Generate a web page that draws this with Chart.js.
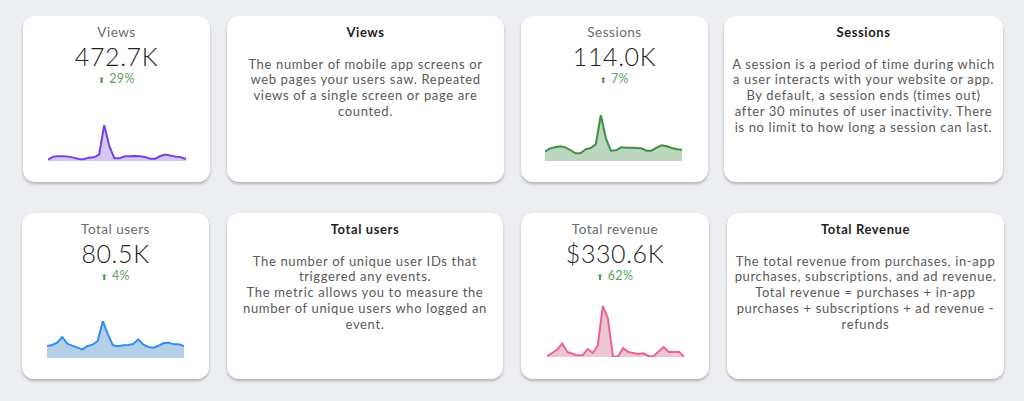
<!DOCTYPE html>
<html>
<head>
<meta charset="utf-8">
<script src="https://cdn.jsdelivr.net/npm/chart.js@4.4.0/dist/chart.umd.min.js"></script>
<style>
  body {
    margin: 0;
    width: 1024px;
    height: 401px;
    background: #eceef1;
    font-family: Lato, sans-serif;
    position: relative;
    overflow: hidden;
  }
  .card {
    position: absolute;
    background: #fff;
    border-radius: 12px;
    box-shadow: 0 2px 3px rgba(0, 0, 0, 0.25);
  }
  .txt {
    position: absolute;
    text-align: center;
    white-space: nowrap;
  }
  .label { color: #6b6b6b; font-size: 13.5px; line-height: 14px; letter-spacing: 0.5px; }
  .value { color: #222; font-size: 25px; line-height: 22px; font-weight: 300; letter-spacing: 0.6px; }
  .delta { color: #59a35c; font-size: 12.5px; line-height: 12px; letter-spacing: 0.3px; }
  .delta .arr { font-family: "DejaVu Sans"; font-size: 8px; margin-right: 4px; color: #3f8f43; }
  .dtitle { color: #1e1e1e; font-size: 13px; line-height: 14px; font-weight: 700; letter-spacing: 0.6px; }
  .dbody { color: #595959; font-size: 13px; line-height: 15.8px; letter-spacing: 0.65px; }
  canvas { position: absolute; }
</style>
</head>
<body>
<script>
// days of the period
const days = [1, 2, 3, 4, 5, 6, 7, 8, 9, 10, 11, 12, 13, 14, 15, 16, 17, 18, 19, 20, 21, 22, 23, 24, 25, 26, 27, 28];

const viewsData    = [4, 13, 14, 14, 13, 10, 6, 5, 10, 11, 19, 107, 44, 8, 8, 14, 14, 15, 14, 12, 7, 7, 15, 19, 16, 13, 11, 6];
const sessionsData = [28, 38, 41, 44, 41, 33, 23, 23, 35, 39, 50, 138, 68, 31, 32, 41, 40, 40, 39, 38, 31, 31, 40, 47, 44, 39, 35, 34];
const usersData    = [36, 39, 46, 63, 43, 37, 31, 26, 36, 40, 51, 111, 71, 38, 35, 38, 39, 42, 56, 40, 33, 31, 37, 45, 46, 41, 41, 36];
const revenueData  = [2, 12, 22, 41, 15, 10, 5, 5, 24, 12, 34, 154, 117, 1, 2, 27, 15, 12, 9, 11, 3, 2, 17, 30, 15, 15, 16, 1];

// headline numbers
const metricNames  = ["Views", "Sessions", "Total users", "Total revenue"];
const metricTotals = ["472.7K", "114.0K", "80.5K", "$330.6K"];
const metricDeltas = ["29%", "7%", "4%", "62%"];

// description cards
const descTitles = ["Views", "Sessions", "Total users", "Total Revenue"];
const descLines = [
  ["The number of mobile app screens or", "web pages your users saw. Repeated", "views of a single screen or page are", "counted."],
  ["A session is a period of time during which", "a user interacts with your website or app.", "By default, a session ends (times out)", "after 30 minutes of user inactivity. There", "is no limit to how long a session can last."],
  ["The number of unique user IDs that", "triggered any events.", "The metric allows you to measure the", "number of unique users who logged an", "event."],
  ["The total revenue from purchases, in-app", "purchases, subscriptions, and ad revenue.", "Total revenue = purchases + in-app", "purchases + subscriptions + ad revenue -", "refunds"]
];

// layout
const statCards = [
  { x: 23, y: 16, w: 187, h: 166, spark: { x: 48, y: 125, w: 138, h: 36 } },
  { x: 521, y: 16, w: 187, h: 166, spark: { x: 545, y: 115, w: 137, h: 46 } },
  { x: 22, y: 213, w: 187, h: 166, spark: { x: 47, y: 321, w: 137, h: 37 } },
  { x: 521, y: 213, w: 188, h: 166, spark: { x: 547, y: 306, w: 137, h: 51 } }
];
const descCards = [
  { x: 227, y: 16, w: 277, h: 166 },
  { x: 724, y: 16, w: 279, h: 166 },
  { x: 227, y: 213, w: 276, h: 166 },
  { x: 727, y: 213, w: 277, h: 166 }
];
const lineColors = ["#7440e4", "#3f8f43", "#2f8ff0", "#ef6092"];
const fillColors = ["#d5c8f0", "#bdd6bf", "#b6cfe9", "#edc6d3"];
const allSeries = [viewsData, sessionsData, usersData, revenueData];

function addText(cls, html, left, width, top) {
  const d = document.createElement("div");
  d.className = "txt " + cls;
  d.innerHTML = html;
  d.style.left = left + "px";
  d.style.width = width + "px";
  d.style.top = top + "px";
  document.body.appendChild(d);
}

function addCard(c) {
  const d = document.createElement("div");
  d.className = "card";
  d.style.left = c.x + "px";
  d.style.top = c.y + "px";
  d.style.width = c.w + "px";
  d.style.height = c.h + "px";
  document.body.appendChild(d);
}

statCards.forEach((c, i) => {
  addCard(c);
  addText("label", metricNames[i], c.x, c.w, c.y + 9);
  addText("value", metricTotals[i], c.x, c.w, c.y + 29);
  addText("delta", '<span class="arr">⬆</span>' + metricDeltas[i], c.x, c.w, c.y + 57);

  const s = c.spark;
  const cv = document.createElement("canvas");
  cv.width = s.w;
  cv.height = s.h;
  cv.style.left = s.x + "px";
  cv.style.top = s.y + "px";
  document.body.appendChild(cv);

  const data = allSeries[i];
  new Chart(cv, {
    type: "line",
    data: {
      labels: days,
      datasets: [{
        data: data,
        borderColor: lineColors[i],
        backgroundColor: fillColors[i],
        borderWidth: 2,
        fill: "origin",
        tension: 0,
        pointRadius: 0,
        clip: false
      }]
    },
    options: {
      responsive: false,
      animation: false,
      layout: { padding: 0 },
      plugins: { legend: { display: false }, tooltip: { enabled: false } },
      scales: {
        x: { display: false, offset: false },
        y: { display: false, min: 0, max: Math.max(...data) }
      }
    }
  });
});

descCards.forEach((c, i) => {
  addCard(c);
  addText("dtitle", descTitles[i], c.x, c.w, c.y + 9);
  addText("dbody", descLines[i].join("<br>"), c.x, c.w, c.y + 40.6);
});
</script>
</body>
</html>
